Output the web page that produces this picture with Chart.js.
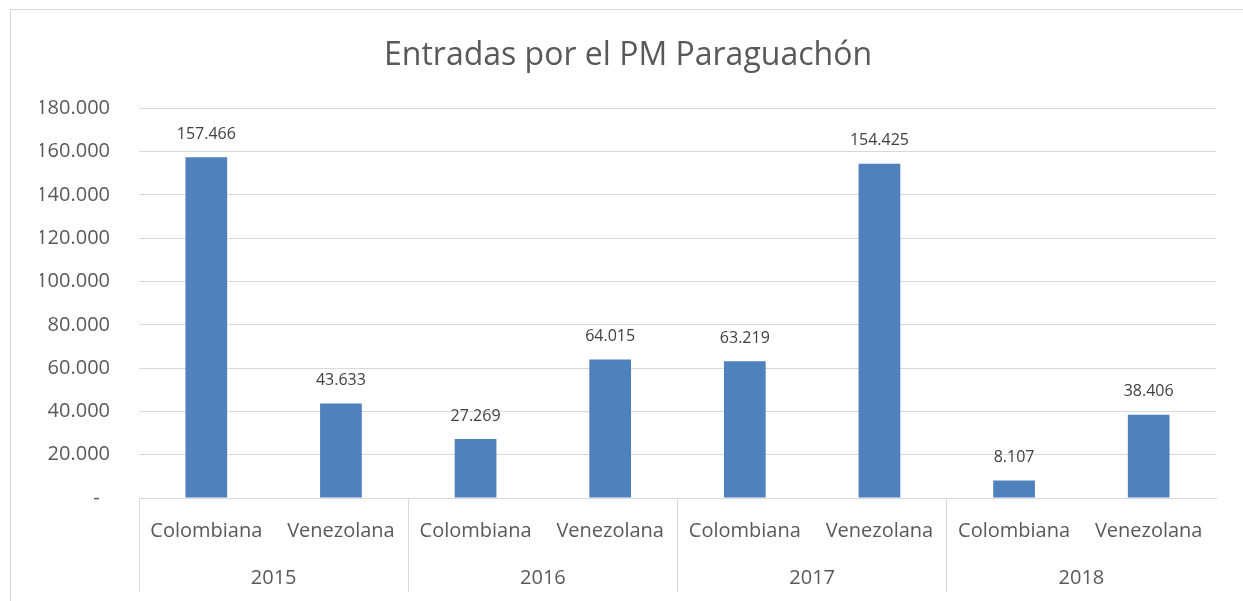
<!DOCTYPE html>
<html>
<head>
<meta charset="utf-8">
<script src="https://cdn.jsdelivr.net/npm/chart.js@4.4.1/dist/chart.umd.min.js"></script>
<style>
  html, body { margin: 0; padding: 0; background: #fff; overflow: hidden; }
  #frame { position: absolute; left: 10px; top: 9px; width: 1400px; height: 700px;
           border-left: 1px solid #d9d9d9; border-top: 1px solid #d9d9d9; }
  #wrap { position: absolute; left: 0; top: 0; width: 1243px; height: 601px; }
</style>
</head>
<body>
<div id="frame"></div>
<div id="wrap"><canvas id="chart"></canvas></div>
<script>
// values
var nationalities = ["Colombiana", "Venezolana", "Colombiana", "Venezolana",
                     "Colombiana", "Venezolana", "Colombiana", "Venezolana"];
var years = ["2015", "2016", "2017", "2018"];
var entradas = [157466, 43633, 27269, 64015, 63219, 154425, 8107, 38406];

function miles(v) {
    return String(v).replace(/\B(?=(\d{3})+(?!\d))/g, ".");
}

var FONT = "'Open Sans', 'DejaVu Sans', sans-serif";

// values on top of the bars
var barLabels = {
    id: "barLabels",
    afterDatasetsDraw: function(chart) {
        var ctx = chart.ctx;
        var meta = chart.getDatasetMeta(0);
        ctx.save();
        ctx.font = "16px " + FONT;
        ctx.fillStyle = "#404040";
        ctx.textAlign = "center";
        ctx.textBaseline = "middle";
        meta.data.forEach(function(bar, i) {
            ctx.fillText(miles(entradas[i]), bar.x, bar.y - 23);
        });
        ctx.restore();
    }
};

var ctx = document.getElementById("chart").getContext("2d");
var myChart = new Chart(ctx, {
    type: "bar",
    data: {
        labels: nationalities,
        datasets: [{
            label: "Entradas",
            data: entradas,
            backgroundColor: "#4f81bd",
            barPercentage: 0.31,
            categoryPercentage: 1
        }]
    },
    options: {
        responsive: true,
        maintainAspectRatio: false,
        animation: false,
        layout: { padding: { left: 40, right: 27, top: 10, bottom: 5 } },
        plugins: {
            legend: { display: false },
            tooltip: { enabled: false },
            title: {
                display: true,
                text: "Entradas por el PM Paraguachón",
                color: "#595959",
                font: { family: FONT, size: 32, weight: "normal" },
                padding: { top: 27, bottom: 33 }
            }
        },
        scales: {
            y: {
                min: 0,
                max: 180000,
                border: { display: false },
                grid: { color: "#d9d9d9", drawTicks: false, lineWidth: 1 },
                ticks: {
                    stepSize: 20000,
                    padding: 29,
                    color: "#595959",
                    font: { family: FONT, size: 20 },
                    callback: function(v) { return v === 0 ? "-  " : miles(v); }
                },
                afterFit: function(scale) { scale.width = 99; }
            },
            x: {
                offset: true,
                border: { color: "#d9d9d9" },
                grid: {
                    offset: true,
                    drawOnChartArea: false,
                    tickLength: 94,
                    color: function(c) { return c.index % 2 === 0 ? "#d9d9d9" : "rgba(0,0,0,0)"; }
                },
                ticks: {
                    padding: -73,
                    color: "#595959",
                    maxRotation: 0,
                    autoSkip: false,
                    font: { family: FONT, size: 20 }
                },
                afterFit: function(scale) { scale.height = 44; }
            },
            x2: {
                type: "category",
                position: "bottom",
                labels: years,
                offset: true,
                border: { display: false },
                grid: { display: false },
                ticks: {
                    padding: 16,
                    color: "#595959",
                    maxRotation: 0,
                    font: { family: FONT, size: 20 }
                },
                afterFit: function(scale) { scale.height = 54; }
            }
        }
    },
    plugins: [barLabels]
});
</script>
</body>
</html>
